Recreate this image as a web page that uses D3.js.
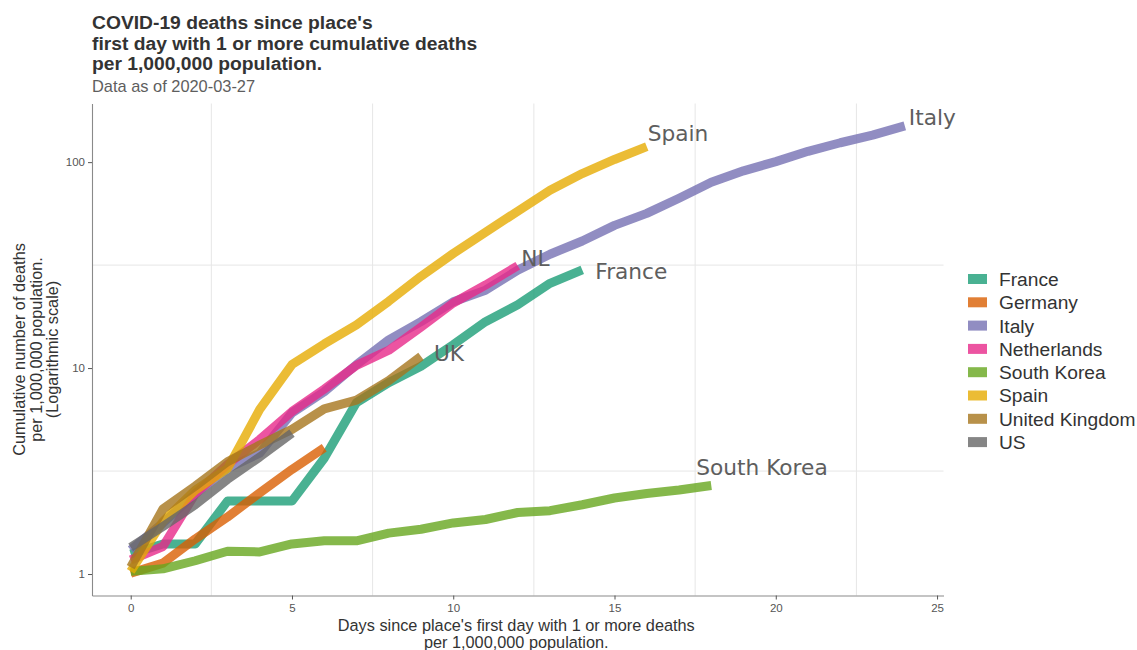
<!DOCTYPE html>
<html><head><meta charset="utf-8">
<script src="https://cdn.jsdelivr.net/npm/d3@7"></script>
<style>body{margin:0;background:#fff} svg{display:block}</style>
</head><body>
<svg id="chart" width="1137" height="650"></svg>
<script>
// ---- data ----
const countries = ["France","Germany","Italy","Netherlands","South Korea","Spain","United Kingdom","US"];
const endLabels = ["France", null, "Italy", "NL", "South Korea", "Spain", "UK", null];
const colors = ["#1b9e77","#d95f02","#7570b3","#e7298a","#66a61e","#e6ab02","#a6761d","#666666"];

const france = [1.25, 1.40, 1.40, 2.26, 2.26, 2.26, 3.65, 6.8, 8.5, 10.2, 13.0, 16.8, 20.3, 25.8, 30.0];
const germany = [1.01, 1.13, 1.48, 1.89, 2.48, 3.22, 4.10];
const italy = [1.31, 1.77, 2.45, 3.26, 3.86, 6.06, 7.67, 10.4, 13.7, 16.8, 21.0, 23.9, 29.9, 35.7, 41.4, 49.3, 56.4, 66.8, 79.9, 90.7, 100.6, 112.9, 124.2, 135.2, 150.0];
const netherlands = [1.17, 1.36, 2.45, 3.4, 4.5, 6.15, 7.9, 10.3, 12.2, 15.8, 20.7, 25.3, 31.4];
const southKorea = [1.03, 1.06, 1.16, 1.29, 1.28, 1.40, 1.45, 1.45, 1.58, 1.65, 1.77, 1.84, 1.99, 2.03, 2.17, 2.34, 2.46, 2.56, 2.69];
const spain = [1.03, 1.80, 2.55, 3.25, 6.3, 10.4, 13.1, 16.2, 21.1, 27.9, 36.0, 45.7, 57.8, 73.0, 88.0, 103, 119];
const unitedKingdom = [1.08, 2.07, 2.67, 3.51, 4.23, 5.04, 6.34, 6.99, 8.70, 11.4];
const us = [1.35, 1.70, 2.17, 2.88, 3.70, 4.83];

const xTicks = [0, 5, 10, 15, 20, 25];
const yTicks = [1, 10, 100];
const xMinor = [2.5, 7.5, 12.5, 17.5, 22.5];
const yMinor = [3.162, 31.62];

const titleLines = ["COVID-19 deaths since place's", "first day with 1 or more cumulative deaths", "per 1,000,000 population."];
const subtitle = "Data as of 2020-03-27";
const xTitle = ["Days since place's first day with 1 or more deaths", "per 1,000,000 population."];
const yTitle = ["Cumulative number of deaths", "per 1,000,000 population.", "(Logarithmic scale)"];

// ---- style ----
const seriesValues = [france, germany, italy, netherlands, southKorea, spain, unitedKingdom, us];
const labelOffsets = {
  "France": [13, 9], "Italy": [4, -1], "NL": [3.5, 0],
  "South Korea": [-15, -11], "Spain": [1, -6], "UK": [13, 5]
};
const FONT = "'Liberation Sans', Arial, sans-serif";
const panel = {left: 92, right: 943.5, top: 103.5, bottom: 595.5};
const LINE_OPACITY = 0.8;

const svg = d3.select("#chart");

// scales with ggplot-like 5% expansion
const maxDay = d3.max(seriesValues, s => s.length - 1);
const xPad = maxDay * 0.05;
const x = d3.scaleLinear().domain([-xPad, maxDay + xPad]).range([panel.left, panel.right]);
const lmin = Math.log10(d3.min(seriesValues, s => d3.min(s)));
const lmax = Math.log10(d3.max(seriesValues, s => d3.max(s)));
const lpad = (lmax - lmin) * 0.05;
const y = d3.scaleLog().domain([Math.pow(10, lmin - lpad), Math.pow(10, lmax + lpad)]).range([panel.bottom, panel.top]);

// gridlines (minor only)
const grid = svg.append("g");
grid.selectAll("line.vx").data(xMinor).join("line")
  .attr("x1", d => x(d)).attr("x2", d => x(d))
  .attr("y1", panel.top).attr("y2", panel.bottom)
  .attr("stroke", "#e6e6e6").attr("stroke-width", 1);
grid.selectAll("line.hy").data(yMinor).join("line")
  .attr("y1", d => y(d)).attr("y2", d => y(d))
  .attr("x1", panel.left).attr("x2", panel.right)
  .attr("stroke", "#e6e6e6").attr("stroke-width", 1);

// axes
const xAxis = svg.append("g").attr("transform", `translate(0,${panel.bottom})`)
  .call(d3.axisBottom(x).tickValues(xTicks).tickSize(4).tickSizeOuter(0).tickPadding(4.5));
const yAxis = svg.append("g").attr("transform", `translate(${panel.left},0)`)
  .call(d3.axisLeft(y).tickValues(yTicks).tickFormat(d3.format("d")).tickSize(4).tickSizeOuter(0).tickPadding(3));
[xAxis, yAxis].forEach(a => {
  a.select(".domain").attr("stroke", "#8a8a8a").attr("stroke-width", 1.1);
  a.selectAll(".tick line").attr("stroke", "#555");
  a.selectAll(".tick text").attr("fill", "#555").style("font-family", FONT).style("font-size", "11.5px");
});

// lines
const line = d3.line().x((d, i) => x(i)).y(d => y(d));
svg.append("g").selectAll("path").data(seriesValues).join("path")
  .attr("d", d => line(d))
  .attr("fill", "none")
  .attr("stroke", (d, i) => colors[i])
  .attr("stroke-opacity", LINE_OPACITY)
  .attr("stroke-width", 9)
  .attr("stroke-linejoin", "round")
  .attr("stroke-linecap", "butt");

// end labels
const labelData = seriesValues.map((s, i) => ({name: endLabels[i], day: s.length - 1, v: s[s.length - 1]}))
  .filter(d => d.name);
svg.append("g").selectAll("text").data(labelData).join("text")
  .attr("x", d => x(d.day) + labelOffsets[d.name][0])
  .attr("y", d => y(d.v) + labelOffsets[d.name][1])
  .attr("fill", "#5e5e5e")
  .style("font-family", "'DejaVu Sans', sans-serif")
  .style("font-size", "21.7px")
  .text(d => d.name);

// title
const title = svg.append("g");
title.selectAll("text").data(titleLines).join("text")
  .attr("x", 92).attr("y", (d, i) => 29 + i * 20.5)
  .attr("fill", "#333")
  .style("font-family", FONT).style("font-weight", "bold").style("font-size", "19.25px")
  .text(d => d);
svg.append("text").attr("x", 92).attr("y", 92)
  .attr("fill", "#5e5e5e")
  .style("font-family", FONT).style("font-size", "16.4px")
  .text(subtitle);

// axis titles
const xc = (panel.left + panel.right) / 2;
svg.append("g").selectAll("text").data(xTitle).join("text")
  .attr("x", xc - 1.5).attr("y", (d, i) => 631 + i * 16.5)
  .attr("text-anchor", "middle").attr("fill", "#333")
  .style("font-family", FONT).style("font-size", "16.3px")
  .text(d => d);
const yc = (panel.top + panel.bottom) / 2;
svg.append("g").selectAll("text").data(yTitle).join("text")
  .attr("transform", (d, i) => `translate(${25 + i * 16.5},${yc}) rotate(-90)`)
  .attr("text-anchor", "middle").attr("fill", "#333")
  .style("font-family", FONT).style("font-size", "16.3px")
  .text(d => d);

// legend
const legend = svg.append("g").attr("transform", "translate(968,279)");
const rows = legend.selectAll("g").data(countries).join("g")
  .attr("transform", (d, i) => `translate(0,${i * 23.3})`);
rows.append("rect").attr("x", 0).attr("y", -5).attr("width", 19).attr("height", 10)
  .attr("fill", (d, i) => colors[i]).attr("fill-opacity", LINE_OPACITY);
rows.append("text").attr("x", 31).attr("y", 0).attr("dy", "0.36em")
  .attr("fill", "#333")
  .style("font-family", FONT).style("font-size", "19.2px")
  .text(d => d);
</script>
</body></html>
